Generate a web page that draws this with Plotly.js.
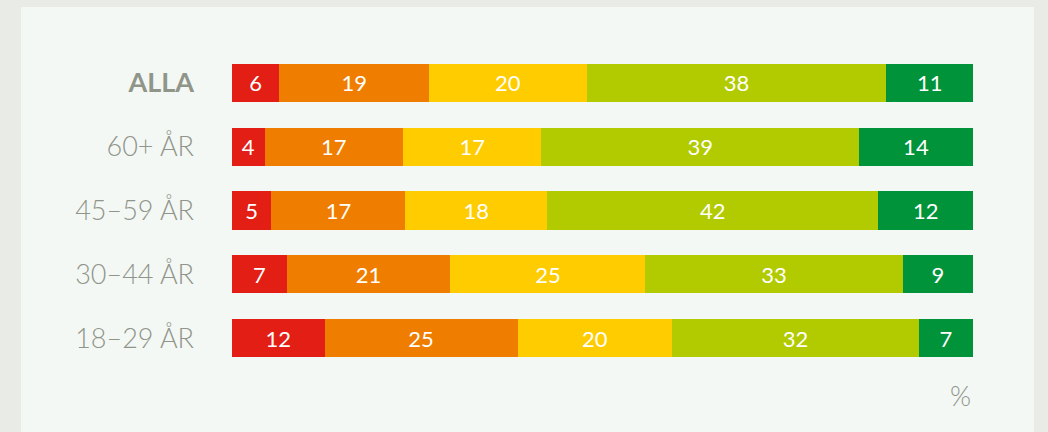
<!DOCTYPE html>
<html>
<head>
<meta charset="utf-8">
<script src="https://cdn.plot.ly/plotly-3.0.1.min.js"></script>
<style>html,body{margin:0;padding:0;background:#e9ebe7;}#chart{width:1048px;height:432px;}</style>
</head>
<body>
<div id="chart"></div>
<script>
const categories = ['ALLA', '60+ ÅR', '45–59 ÅR', '30–44 ÅR', '18–29 ÅR'];
const tickLabels = ['<b>ALLA</b>', '60+ ÅR', '45–59 ÅR', '30–44 ÅR', '18–29 ÅR'];
const seriesNames = ['s1', 's2', 's3', 's4', 's5'];
const s1 = [6, 4, 5, 7, 12];
const s2 = [19, 17, 17, 21, 25];
const s3 = [20, 17, 18, 25, 20];
const s4 = [38, 39, 42, 33, 32];
const s5 = [11, 14, 12, 9, 7];
const colors = ['#e31e15', '#ef7d00', '#ffcc00', '#b2cb00', '#00933a'];

const series = [s1, s2, s3, s4, s5];
const traces = series.map((vals, i) => ({
  type: 'bar',
  orientation: 'h',
  name: seriesNames[i],
  y: categories,
  x: vals,
  text: vals.map(String),
  texttemplate: '%{text}',
  textposition: 'inside',
  insidetextanchor: 'middle',
  textangle: 0,
  constraintext: 'none',
  insidetextfont: {color: '#ffffff', size: 22, family: 'Lato, "Open Sans", sans-serif'},
  marker: {color: colors[i], line: {width: 0}},
  hoverinfo: 'none'
}));

const L = 232, R = 75, T = 51, B = 62;
const W = 1048 - L - R, H = 432 - T - B;
const layout = {
  width: 1048, height: 432,
  margin: {l: L, r: R, t: T, b: B, pad: 0},
  paper_bgcolor: '#e9ebe7',
  plot_bgcolor: '#f4f8f5',
  barmode: 'stack',
  barnorm: 'percent',
  bargap: 0.404,
  showlegend: false,
  xaxis: {range: [0, 100], visible: false, fixedrange: true},
  yaxis: {
    type: 'category',
    categoryorder: 'array',
    categoryarray: categories,
    range: [4.5, -0.5],
    tickmode: 'array',
    tickvals: categories,
    ticktext: tickLabels,
    ticks: '',
    showgrid: false, zeroline: false, showline: false,
    ticklabelstandoff: 37,
    tickfont: {family: 'Lato, "Open Sans", sans-serif', size: 27, weight: 300, color: '#90958a'}
  },
  shapes: [{
    type: 'rect', xref: 'paper', yref: 'paper', layer: 'below',
    x0: (21 - L) / W, x1: (1034 - L) / W,
    y0: -(432 - T - H) / H - 0.01, y1: 1 + (T - 7) / H,
    fillcolor: '#f4f8f5', line: {width: 0}
  }],
  annotations: [{
    text: '%', xref: 'paper', yref: 'paper', x: 1, y: -(395 - (T + H)) / H,
    xanchor: 'right', yanchor: 'middle', showarrow: false,
    font: {family: 'Lato, "Open Sans", sans-serif', size: 27, weight: 300, color: '#90958a'}
  }]
};

Plotly.newPlot('chart', traces, layout, {displayModeBar: false, staticPlot: true});
</script>
</body>
</html>
